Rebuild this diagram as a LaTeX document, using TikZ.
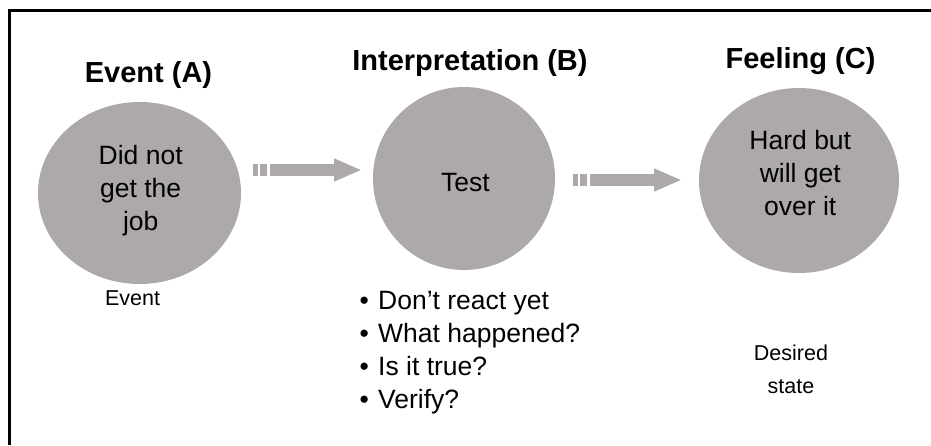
\documentclass[tikz,border=0pt]{standalone}
\usepackage{fontspec}
\setmainfont{Liberation Sans}
\usetikzlibrary{shapes.geometric}
\definecolor{blobgray}{RGB}{173,169,168}
\tikzset{
  blob/.style={ellipse, fill=blobgray, draw=none, inner sep=0pt},
  blobtext/.style={align=center, inner sep=0pt, font=\fontsize{26.5}{33}\selectfont},
  heading/.style={anchor=base, inner sep=0pt, font=\bfseries\fontsize{29}{34}\selectfont},
  plain/.style={inner sep=0pt, font=\fontsize{26.5}{33}\selectfont},
  caption/.style={inner sep=0pt, font=\fontsize{21.5}{33}\selectfont},
  blockarrow/.pic={
    \fill[blobgray] (0,-5.8) rectangle (5.6,5.8);
    \fill[blobgray] (7.3,-5.8) rectangle (14,5.8);
    \fill[blobgray] (17.3,-5.8) -- (81.3,-5.8) -- (81.3,-11.7) -- (108,0)
      -- (81.3,11.7) -- (81.3,5.8) -- (17.3,5.8) -- cycle;
  }
}
\begin{document}
\begin{tikzpicture}[x=1pt,y=-1pt]
\useasboundingbox (0,0) rectangle (931,445);
\fill[white] (0,0) rectangle (931,445);

% frame
\draw[line width=2.6pt] (9.5,445) -- (9.5,10.5) -- (931,10.5);

% headings
\node[heading] (hA) at (148.5,82) {Event (A)};
\node[heading] (hB) at (470,70) {Interpretation (B)};
\node[heading] (hC) at (800.5,68) {Feeling (C)};

% circles
\node[blob, minimum width=203pt, minimum height=182pt] (A) at (139.5,193) {};
\node[blob, minimum width=182pt, minimum height=183pt] (B) at (464,178.5) {};
\node[blob, minimum width=200pt, minimum height=185pt] (C) at (799,180.5) {};

\node[blobtext] (tA) at (140.7,190.8) {Did not\\get the\\job};
\node[blobtext] (tB) at (465.5,182.3) {Test};
\node[blobtext] (tC) at (800.3,173) {Hard but\\will get\\over it};

% arrows between the stages
\pic at (252.7,170) {blockarrow};
\pic at (572.7,180) {blockarrow};

% captions (base anchor = last line's baseline)
\node[caption, anchor=base] (lA) at (132.5,305.5) {Event};
\node[caption, anchor=base, align=center] (lC) at (791,393) {Desired\\state};

% questions under the interpretation
\node[plain, anchor=base west, align=left] (qB) at (359.5,408) {%
  \makebox[18.5pt][l]{•}Don’t react yet\\
  \makebox[18.5pt][l]{•}What happened?\\
  \makebox[18.5pt][l]{•}Is it true?\\
  \makebox[18.5pt][l]{•}Verify?};
\end{tikzpicture}
\end{document}
